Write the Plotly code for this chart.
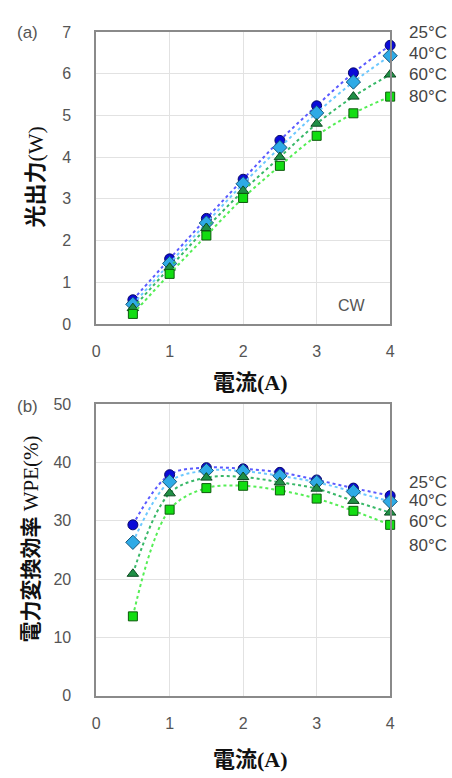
import plotly.graph_objects as go

W, H = 452, 778

current = [0.5, 1.0, 1.5, 2.0, 2.5, 3.0, 3.5, 4.0]
temps = ["25°C", "40°C", "60°C", "80°C"]

power_25 = [0.58, 1.56, 2.53, 3.47, 4.40, 5.23, 6.02, 6.68]
power_40 = [0.47, 1.45, 2.42, 3.36, 4.23, 5.06, 5.80, 6.43]
power_60 = [0.38, 1.35, 2.30, 3.19, 4.00, 4.80, 5.45, 5.98]
power_80 = [0.24, 1.20, 2.12, 3.02, 3.79, 4.51, 5.05, 5.45]

wpe_25 = [29.3, 37.9, 39.1, 38.9, 38.3, 37.0, 35.6, 34.3]
wpe_40 = [26.3, 36.7, 38.6, 38.5, 37.7, 36.6, 35.0, 33.3]
wpe_60 = [20.9, 34.7, 37.4, 37.5, 36.6, 35.5, 33.4, 31.4]
wpe_80 = [13.6, 31.9, 35.6, 36.0, 35.2, 33.8, 31.7, 29.3]

x_ticks = [0, 1, 2, 3, 4]
y1_ticks = [0, 1, 2, 3, 4, 5, 6, 7]
y2_ticks = [0, 10, 20, 30, 40, 50]

power = [power_25, power_40, power_60, power_80]
wpe = [wpe_25, wpe_40, wpe_60, wpe_80]

symbols = ["circle", "diamond", "triangle-up", "square"]
fills = ["#0a0ad8", "#2eaae6", "#1f8f45", "#12dd12"]
edges = ["#08086a", "#15557a", "#0e4a22", "#0c5a0c"]
lines = ["#5a5aff", "#6cc8ff", "#38b868", "#55ee55"]
sizes = [10, 11, 10, 9]

fig = go.Figure()
for i in range(4):
    for ys, xa, ya in [(power[i], "x", "y"), (wpe[i], "x2", "y2")]:
        fig.add_trace(go.Scatter(
            x=current, y=ys, xaxis=xa, yaxis=ya, mode="lines+markers",
            name=temps[i], showlegend=False, cliponaxis=False,
            line=dict(color=lines[i], width=2, dash="dot", shape="spline", smoothing=1.0),
            marker=dict(symbol=symbols[i], size=sizes[i], color=fills[i],
                        line=dict(color=edges[i], width=1)),
        ))

def px(x):
    return x / W

def py(y):
    return 1 - y / H

xdom = [px(94), px(394)]
tickfont = dict(family="Liberation Sans, Arial", size=16, color="#555555")
axcommon = dict(showline=True, linecolor="#8a8a8a", linewidth=1.5, mirror=True,
                gridcolor="#e2e2e2", gridwidth=1.2, zeroline=False,
                ticks="outside", tickcolor="rgba(0,0,0,0)", tickfont=tickfont)

fig.update_layout(
    width=W, height=H, margin=dict(l=0, r=0, t=0, b=0),
    paper_bgcolor="white", plot_bgcolor="white",
    xaxis=dict(domain=xdom, range=[0, 4], tickvals=x_ticks, anchor="y", ticklen=12, **axcommon),
    yaxis=dict(domain=[py(323), py(24.5)], range=[0, 7], tickvals=y1_ticks, anchor="x", ticklen=20, **axcommon),
    xaxis2=dict(domain=xdom, range=[0, 4], tickvals=x_ticks, anchor="y2", ticklen=12, **axcommon),
    yaxis2=dict(domain=[py(703), py(405)], range=[0, 50], tickvals=y2_ticks, anchor="x2", ticklen=20, **axcommon),
)

jp = "Noto Sans CJK JP"
serif = "Liberation Serif, DejaVu Serif"
anns = []

def label(text, x, y, size=15, color="#444444", family="Liberation Sans, Arial", angle=0, xanchor="center"):
    anns.append(dict(text=text, x=px(x), y=py(y), xref="paper", yref="paper", showarrow=False,
                     textangle=angle, xanchor=xanchor, yanchor="middle",
                     font=dict(size=size, color=color, family=family)))

label("(a)", 24, 25, size=17, color="#555555")
label("(b)", 24, 407, size=17, color="#555555")
label("CW", 355, 304, size=16, color="#555555")

tl = [25, 47, 68, 90]
bl = [485, 504, 525, 549]
for i in range(4):
    label(temps[i], 411, tl[i], size=17, xanchor="left")
    label(temps[i], 411, bl[i], size=17, xanchor="left")

title_x = f"<b>電流</b><span style='font-family:{serif}'><b>(A)</b></span>"
label(title_x, 252, 380, size=22, color="#111111", family=jp)
label(title_x, 252, 766, size=22, color="#111111", family=jp)
label(f"<b>光出力</b><span style='font-family:{serif}'>(W)</span>", 30, 173, size=22,
      color="#111111", family=jp, angle=-90)
label(f"<b>電力変換効率</b><span style='font-family:{serif}'> WPE(%)</span>", 26, 543, size=21,
      color="#111111", family=jp, angle=-90)

fig.update_layout(annotations=anns)
fig.write_html("out.html")
